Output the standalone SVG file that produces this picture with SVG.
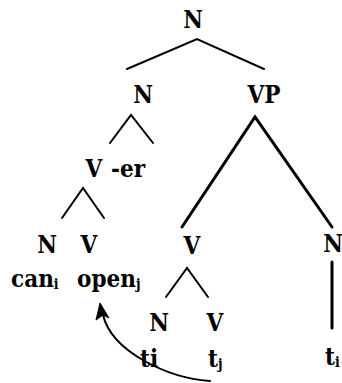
<svg xmlns="http://www.w3.org/2000/svg" width="342" height="383" viewBox="0 0 342 383">
  <style>
    text { font-family: "DejaVu Serif Condensed", "DejaVu Serif", serif; font-stretch: condensed; font-weight: bold; font-size: 24px; fill: #000; }
    .c { text-anchor: middle; }
    .sub { font-size: 14px; }
    .br { stroke: #000; stroke-width: 2; fill: none; stroke-linecap: round; }
    .thick { stroke-width: 3; }
  </style>
  <rect width="342" height="383" fill="#fff"/>

  <g id="connectors">
    <path class="br" d="M127,69 L197,39 L264,69"/>
    <path class="br" d="M110,143 L131,115 L153,143"/>
    <path class="br" d="M62,218 L83,188 L104,218"/>
    <path class="br thick" d="M182,227 L255,117 L332,227"/>
    <path class="br" d="M166,297 L187,268 L208,297"/>
    <path class="br thick" d="M332,262 L332,328"/>
    <path class="br" stroke-width="2.5" d="M210,381 C168,378 112,352 103,315"/>
    <polygon points="100,303 109,318 103,315 96,320" fill="#000" stroke="#000" stroke-width="1" stroke-linejoin="round"/>
  </g>

  <g id="n-root"><text class="c" x="193" y="28">N</text></g>
  <g id="n-noun"><text class="c" x="143" y="103">N</text></g>
  <g id="n-vp"><text class="c" x="264" y="103">VP</text></g>
  <g id="n-verb"><text class="c" x="94" y="177">V</text></g>
  <g id="n-er"><text x="111" y="177">-er</text></g>
  <g id="n-n1"><text class="c" x="47" y="253">N</text></g>
  <g id="n-v1"><text class="c" x="89" y="253">V</text></g>
  <g id="w-can"><text x="11" y="287">can<tspan class="sub" dy="2">i</tspan></text></g>
  <g id="w-open"><text x="77" y="287">open<tspan class="sub" dy="2">j</tspan></text></g>
  <g id="n-v2"><text class="c" x="192" y="254">V</text></g>
  <g id="n-n2"><text class="c" x="333" y="252">N</text></g>
  <g id="n-n3"><text class="c" x="159" y="331">N</text></g>
  <g id="n-v3"><text class="c" x="215" y="331">V</text></g>
  <g id="w-ti"><text x="140" y="367">ti</text></g>
  <g id="w-tj"><text x="208" y="367">t<tspan class="sub" dy="2">j</tspan></text></g>
  <g id="w-ti2"><text x="325" y="365">t<tspan class="sub" dy="2">i</tspan></text></g>
</svg>
